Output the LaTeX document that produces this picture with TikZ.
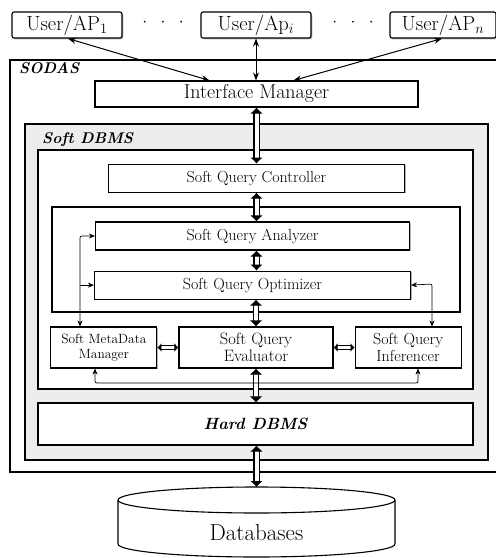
\documentclass[tikz,border=0pt]{standalone}
\usetikzlibrary{arrows.meta,positioning,shadows}

\begin{document}
\begin{tikzpicture}[
    x=1pt, y=-1pt,
    node distance=21pt,
    box/.style={draw, line width=1.1pt, fill=white, inner sep=1pt, align=center,
      drop shadow={shadow xshift=1.3pt, shadow yshift=-1.3pt, fill=gray!60, opacity=1}},
    userbox/.style={box, rounded corners=2pt, minimum width=110pt, minimum height=26pt, font=\fontsize{20.5}{22}\selectfont},
    sqbox/.style={box, minimum height=28pt, font=\fontsize{16}{18}\selectfont},
    rowbox/.style={box, minimum width=106pt, minimum height=41pt},
    tag/.style={anchor=north west, inner sep=0pt, font=\fontsize{15.5}{17}\bfseries\itshape\selectfont},
    bigarrow/.style={double, double distance=4pt, line width=1.1pt, {Latex[length=6pt,width=13pt]}-{Latex[length=6pt,width=13pt]}},
    smallarrow/.style={double, double distance=3pt, line width=1pt, {Latex[length=4pt,width=9pt]}-{Latex[length=4pt,width=9pt]}},
    thinarrow/.style={line width=1pt, {Stealth[length=8pt,width=6pt]}-{Stealth[length=8pt,width=6pt]}},
    feed/.style={line width=0.7pt, rounded corners=2pt, {Stealth[length=6pt,width=5pt]}-{Stealth[length=6pt,width=5pt]}},
    feedone/.style={line width=0.7pt, -{Stealth[length=6pt,width=5pt]}}
  ]
  \useasboundingbox (0,0) rectangle (496,558);

  % containers
  \path[draw, line width=1.1pt, fill=white, drop shadow={shadow xshift=1.3pt, shadow yshift=-1.3pt, fill=gray!60, opacity=1}] (10,60) rectangle (512,472);
  \node[tag] (sodas) at (19,62) {SODAS};
  \path[draw, line width=1.1pt, fill=gray!14, drop shadow={shadow xshift=1.3pt, shadow yshift=-1.3pt, fill=gray!60, opacity=1}] (25,124) rectangle (488,460);
  \node[tag] (softdbms) at (42,132) {Soft DBMS};
  \path[draw, line width=1.1pt, fill=white, drop shadow={shadow xshift=1.3pt, shadow yshift=-1.3pt, fill=gray!60, opacity=1}] (38,150) rectangle (473,389);
  \path[draw, line width=1.1pt, fill=white, drop shadow={shadow xshift=1.3pt, shadow yshift=-1.3pt, fill=gray!60, opacity=1}] (52,207) rectangle (460,312);

  % users
  \node[userbox] (u1) at (67,25) {User/AP$_1$};
  \node[userbox] (ui) at (256,25) {User/Ap$_i$};
  \node[userbox, minimum width=106pt] (un) at (443,25) {User/AP$_n$};
  \node[font=\fontsize{18}{20}\selectfont] (dotsa) at (163,23) {$\cdot\;\;\cdot\;\;\cdot$};
  \node[font=\fontsize{18}{20}\selectfont] (dotsb) at (353,23) {$\cdot\;\;\cdot\;\;\cdot$};

  % layers
  \node[box, minimum width=323pt, minimum height=26pt, font=\fontsize{20}{22}\selectfont] (im) at (256.5,94) {Interface Manager};
  \node[sqbox, minimum width=296pt, below=56pt of im] (ctrl) {Soft Query Controller};
  \node[sqbox, minimum width=314pt] (ana) at (252.5,236) {Soft Query Analyzer};
  \node[sqbox, minimum width=316pt, below=20pt of ana] (opt) {Soft Query Optimizer};
  \node[rowbox, minimum width=154pt, font=\fontsize{16.5}{17}\selectfont] (eval) at (256,347.5) {Soft Query\\Evaluator};
  \node[rowbox, left=of eval, font=\fontsize{13.4}{15}\selectfont] (meta) {Soft MetaData\\Manager};
  \node[rowbox, right=of eval, font=\fontsize{16}{17}\selectfont] (infer) {Soft Query\\Inferencer};
  \node[box, minimum width=435pt, minimum height=42pt, font=\fontsize{16.3}{18}\bfseries\itshape\selectfont] (hard) at (255.5,424) {Hard DBMS};

  % databases
  \coordinate (dbtop) at (256.5,487);
  \draw[line width=1.1pt, fill=white] (118,500) -- (118,544) arc[start angle=180, end angle=0, x radius=138.5, y radius=13] -- (395,500);
  \draw[line width=1.1pt, fill=white] (256.5,500) ellipse[x radius=138.5, y radius=13];
  \node[font=\fontsize{23}{25}\selectfont] (db) at (256.5,533) {Databases};

  % user links
  \draw[thinarrow] ([xshift=1pt]u1.south) -- ([xshift=-47pt]im.north);
  \draw[thinarrow] (ui.south) -- (ui.south |- im.north);
  \draw[thinarrow] ([xshift=-1pt]un.south) -- ([xshift=37pt]im.north);

  % main flow
  \draw[bigarrow] (im.south -| ctrl) -- (ctrl.north);
  \draw[bigarrow] (ctrl.south) -- (ctrl.south |- ana.north);
  \draw[bigarrow] (ana.south -| ctrl) -- (opt.north -| ctrl);
  \draw[bigarrow] (opt.south -| eval) -- (eval.north);
  \draw[bigarrow] (eval.south) -- (eval.south |- hard.north);
  \draw[bigarrow] (hard.south -| dbtop) -- (dbtop);
  \draw[smallarrow] (meta) -- (eval);
  \draw[smallarrow] (eval) -- (infer);

  % feedback lines
  \coordinate (lturn) at (80,236);
  \coordinate (rturn) at (432,284);
  \coordinate (bl) at (95,383);
  \coordinate (br) at (418,383);
  \draw[feed] (meta.north -| lturn) -- (lturn) -- (ana.west);
  \draw[feedone] (lturn |- opt.west) -- (opt.west);
  \draw[feed] (opt.east) -- (rturn) -- (infer.north -| rturn);
  \draw[feed] (meta.south -| bl) -- (bl) -- (br) -- (infer.south -| br);
\end{tikzpicture}
\end{document}
